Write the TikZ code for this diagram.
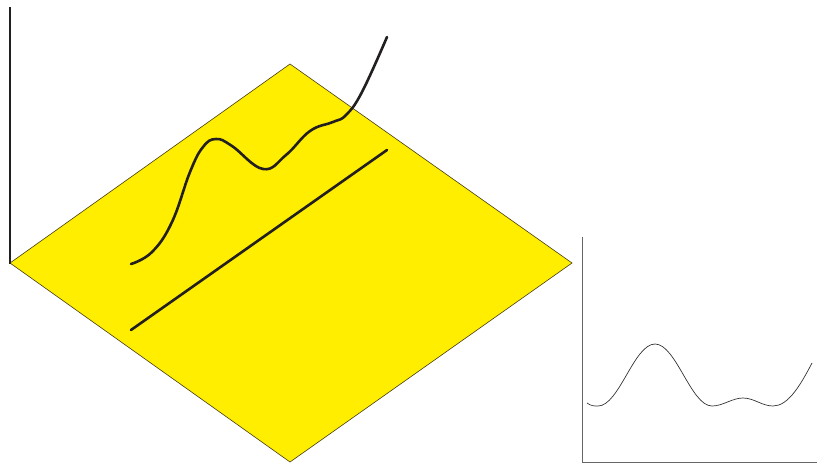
\documentclass[tikz,border=0pt]{standalone}
\usepackage{tikz}
\usepackage{xcolor}
\definecolor{cPlane}{RGB}{255,238,0}
\definecolor{cEdge}{RGB}{70,60,20}
\definecolor{cInk}{RGB}{35,31,32}
\tikzset{
	plane/.style   ={fill=cPlane, draw=cEdge, line width=0.6pt, line join=miter},
	axisthick/.style={line width=2.6pt, cInk},
	wave/.style    ={line width=2.6pt, cInk, line cap=round},
	% small plot on the right
	axisthin/.style={line width=0.8pt, black!60},
	wavethin/.style={line width=0.7pt, black!80},
}
\begin{document}
\begin{tikzpicture}[x=1pt, y=-1pt]
					\useasboundingbox (0,0) rectangle (818,464);
					\draw[plane] (10,263) -- (290,64) -- (572,263) -- (290,462) -- cycle;
					\draw[axisthick] (10,7) -- (10,264);
					\draw[wave] plot[smooth, tension=0.7] coordinates {(131,264) (152,252) (172,222) (190,172) (203,147) (216,139) (232,146) (263,169) (286,155) (310,131) (333,122) (346,115) (362,92) (387,37)};
					\draw[wave] (131,330) -- (387,150);
					% right plot
					\draw[axisthin] (582,237) -- (582,462) -- (817,462);
					\draw[wavethin] (587,403) .. controls (591,406) and (594,406) .. (598,406)
						.. controls (619,406) and (634,344) .. (655,344)
						.. controls (676,344) and (691,406) .. (712,406)
						.. controls (723,406) and (732,398) .. (743,398)
						.. controls (754,398) and (762,406) .. (773,406)
						.. controls (788,406) and (800,386) .. (812,363);
				\end{tikzpicture}
\end{document}
